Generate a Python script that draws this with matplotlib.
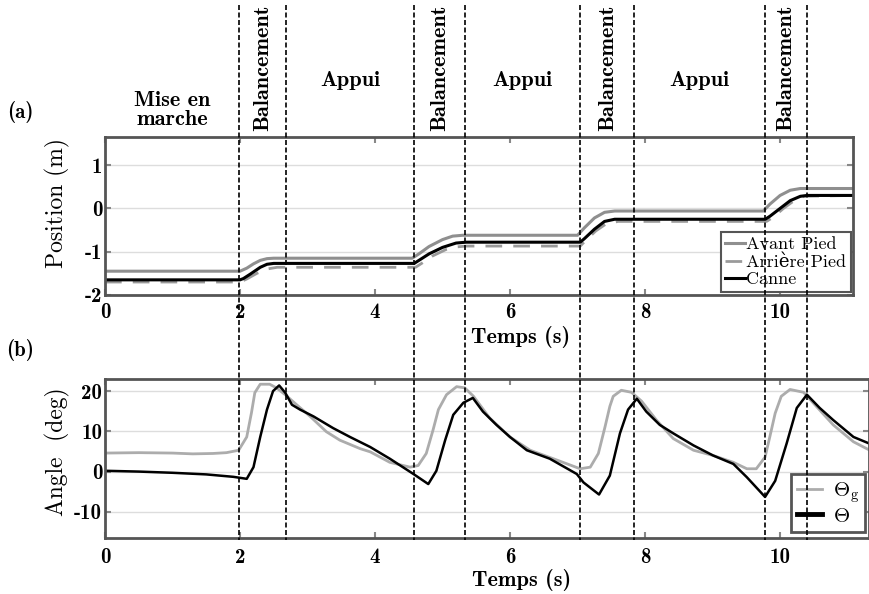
import matplotlib
matplotlib.use("Agg")
import matplotlib.pyplot as plt

plt.rcParams["font.family"] = ["cmb10", "DejaVu Serif"]
plt.rcParams["mathtext.fontset"] = "cm"
plt.rcParams["axes.unicode_minus"] = False
REG = ["cmr10", "DejaVu Serif"]

# ---- values ----
phase_bounds = [1.99, 2.68, 4.58, 5.33, 7.04, 7.84, 9.78, 10.40]
phase_labels = ["Mise en\nmarche", "Balancement", "Appui", "Balancement", "Appui",
                "Balancement", "Appui", "Balancement"]

t_avant = [0, 2.0, 2.1, 2.2, 2.3, 2.4, 2.5, 4.55, 4.65, 4.8, 5.0, 5.15, 5.3,
           7.0, 7.1, 7.25, 7.4, 7.55, 9.75, 9.85, 10.0, 10.15, 10.3, 11.08]
avant_pied = [-1.45, -1.45, -1.38, -1.28, -1.2, -1.16, -1.15, -1.15, -1.05, -0.88, -0.72, -0.64, -0.62,
              -0.62, -0.45, -0.22, -0.09, -0.06, -0.06, 0.1, 0.3, 0.42, 0.46, 0.46]
t_arriere = [0, 2.0, 2.1, 2.25, 2.4, 2.55, 4.6, 4.7, 4.85, 5.05, 5.2, 5.35,
             7.04, 7.12, 7.27, 7.42, 7.6, 9.8, 9.9, 10.05, 10.2, 10.35, 11.08]
arriere_pied = [-1.7, -1.7, -1.63, -1.5, -1.4, -1.36, -1.36, -1.26, -1.1, -0.95, -0.89, -0.87,
                -0.87, -0.74, -0.52, -0.36, -0.3, -0.3, -0.2, 0.0, 0.17, 0.28, 0.3]
t_canne = [0, 2.0, 2.05, 2.15, 2.3, 2.4, 2.5, 4.58, 4.65, 4.8, 5.0, 5.2, 5.35,
           7.04, 7.1, 7.25, 7.4, 7.55, 9.78, 9.85, 10.0, 10.15, 10.3, 10.4, 11.08]
canne = [-1.65, -1.65, -1.62, -1.52, -1.36, -1.29, -1.27, -1.27, -1.2, -1.05, -0.9, -0.8, -0.78,
         -0.78, -0.7, -0.48, -0.3, -0.25, -0.25, -0.18, 0.0, 0.18, 0.28, 0.3, 0.3]

t_theta_g = [0, 0.5, 1.0, 1.3, 1.6, 1.8, 1.98, 2.1, 2.17, 2.22, 2.3, 2.44, 2.54, 2.67, 2.84, 3.04,
             3.28, 3.48, 3.78, 3.93, 4.22, 4.52, 4.64, 4.76, 4.86, 4.94, 5.06, 5.21, 5.33, 5.46,
             5.7, 6.0, 6.3, 6.69, 7.04, 7.19, 7.31, 7.41, 7.48, 7.53, 7.65, 7.8, 7.95, 8.17,
             8.42, 8.72, 9.01, 9.31, 9.51, 9.65, 9.78, 9.85, 9.93, 10.02, 10.15, 10.35, 10.54,
             10.79, 11.09, 11.32]
theta_g = [4.6, 4.7, 4.6, 4.4, 4.5, 4.7, 5.3, 8.6, 14.6, 19.6, 21.7, 21.7, 20.8, 19.1, 16.6, 13.7,
           9.9, 7.8, 5.7, 4.9, 2.3, 1.1, 1.5, 4.5, 10.3, 15.4, 19.1, 21.1, 20.8, 18.7,
           13.3, 8.6, 5.3, 2.9, 0.7, 1.1, 4.5, 11.2, 16.2, 18.7, 20.2, 19.7, 17.5, 12.8,
           8.2, 5.3, 4.0, 2.3, 0.7, 0.7, 3.6, 8.6, 14.5, 18.7, 20.4, 19.7, 16.2,
           11.6, 7.4, 5.4]
t_theta = [0, 0.5, 1.0, 1.5, 1.9, 2.1, 2.2, 2.3, 2.4, 2.49, 2.58, 2.67, 2.77, 2.89, 3.09, 3.38,
           3.63, 3.93, 4.22, 4.57, 4.79, 4.91, 5.04, 5.16, 5.31, 5.45, 5.6, 5.8, 6.0, 6.25,
           6.59, 6.99, 7.09, 7.32, 7.48, 7.63, 7.75, 7.88, 8.02, 8.22, 8.42, 8.72, 9.01,
           9.31, 9.51, 9.78, 9.93, 10.1, 10.25, 10.4, 10.59, 10.79, 11.09, 11.32]
theta = [0.2, 0.0, -0.3, -0.7, -1.3, -1.8, 1.1, 8.6, 15.4, 20.0, 21.4, 19.6, 16.6, 15.4, 13.7, 10.8,
         8.6, 6.1, 3.2, -0.6, -3.1, 0.2, 7.8, 14.1, 17.1, 18.3, 14.9, 11.6, 8.6, 5.3,
         3.2, -0.6, -2.7, -5.7, -1.0, 9.5, 15.4, 18.1, 14.9, 11.6, 9.5, 6.5, 4.0,
         1.9, -1.4, -6.3, -2.3, 7.0, 15.8, 19.1, 15.8, 12.8, 8.6, 7.0]

W, H = 870, 594
def box(l, t, r, b):
    return [l / W, 1 - b / H, (r - l) / W, (b - t) / H]

fig = plt.figure(figsize=(8.7, 5.94), dpi=100, facecolor="white")
ax1 = fig.add_axes(box(105, 137, 853, 295))
ax2 = fig.add_axes(box(105, 379, 869, 538))

def style(ax):
    for s in ax.spines.values():
        s.set_edgecolor("#555555"); s.set_linewidth(2)
    ax.tick_params(direction="in", length=4, width=1.5, color="#888888", top=True, right=True,
                   labelsize=15, pad=2)
    ax.grid(axis="y", color="#dddddd", lw=1)
    ax.set_axisbelow(True)

# ---- (a) position ----
style(ax1)
ax1.plot(t_arriere, arriere_pied, color="#9a9a9a", lw=2, dashes=(6, 4), label="Arrière Pied")
ax1.plot(t_avant, avant_pied, color="#8f8f8f", lw=2.2, label="Avant Pied")
ax1.plot(t_canne, canne, color="black", lw=2.2, label="Canne")
ax1.set_xlim(0, 11.08); ax1.set_ylim(-2, 1.65)
ax1.set_xticks(range(0, 11, 2)); ax1.set_yticks([-2, -1, 0, 1])
ax1.tick_params(axis="x", pad=6)
ax1.set_xlabel("Temps (s)", fontsize=16)
ax1.xaxis.set_label_coords(0.556, -0.197)
ax1.set_ylabel("Position (m)", fontsize=17, family=REG)
ax1.yaxis.set_label_coords(-0.047, 0.58)
h, l = ax1.get_legend_handles_labels()
order = [1, 0, 2]
leg = ax1.legend([h[i] for i in order], [l[i] for i in order], loc="lower right",
                 bbox_to_anchor=(0.997, 0.02), borderaxespad=0, prop={"family": REG, "size": 13},
                 handlelength=1.1, handletextpad=0.05, labelspacing=0.1, borderpad=0.25,
                 fancybox=False, framealpha=1)
leg.get_frame().set_edgecolor("#555555"); leg.get_frame().set_linewidth(1.5)

# ---- (b) angle ----
style(ax2)
ax2.plot(t_theta_g, theta_g, color="#acacac", lw=2, label=r"$\Theta_{\rm g}$")
ax2.plot(t_theta, theta, color="black", lw=1.8, label=r"$\Theta$")
ax2.set_xlim(0, 11.32); ax2.set_ylim(-16.5, 23)
ax2.set_xticks(range(0, 11, 2)); ax2.set_yticks([-10, 0, 10, 20])
ax2.tick_params(axis="x", pad=7)
ax2.set_xlabel("Temps (s)", fontsize=16)
ax2.xaxis.set_label_coords(0.545, -0.197)
ax2.set_ylabel("Angle  (deg)", fontsize=17, family=REG)
ax2.yaxis.set_label_coords(-0.046, 0.54)
leg2 = ax2.legend(loc="lower right", bbox_to_anchor=(0.995, 0.038), borderaxespad=0, fontsize=15,
                  handlelength=1.2, handletextpad=0.5, labelspacing=0.1, borderpad=0.3,
                  fancybox=False, framealpha=1)
leg2.get_frame().set_edgecolor("#555555"); leg2.get_frame().set_linewidth(2)
leg2.get_lines()[1].set_linewidth(3.5)

# ---- overlay: phase boundaries and labels (x in seconds, y in image pixels) ----
ov = fig.add_axes([0, 0, 1, 1], facecolor="none")
ov.set_xlim(-105 / 67.5, 765 / 67.5); ov.set_ylim(H, 0); ov.axis("off")
ov.vlines(phase_bounds, 5, 540, colors="black", lw=1.2, linestyles=(0, (3, 1.5)))
edges = [0] + phase_bounds
for i, lab in enumerate(phase_labels):
    xc = (edges[i] + edges[i + 1]) / 2
    if lab == "Balancement":
        ov.text(xc, 131, lab, rotation=90, ha="center", va="bottom", fontsize=16)
    elif lab == "Appui":
        ov.text(xc, 80, lab, ha="center", va="center", fontsize=16)
    else:
        ov.text(xc, 110, lab, ha="center", va="center", fontsize=16, linespacing=1.05)
fig.text(20 / W, 1 - 112 / H, "(a)", ha="center", va="center", fontsize=15)
fig.text(20 / W, 1 - 350 / H, "(b)", ha="center", va="center", fontsize=15)

fig.savefig("out.png", dpi=100, facecolor="white")
